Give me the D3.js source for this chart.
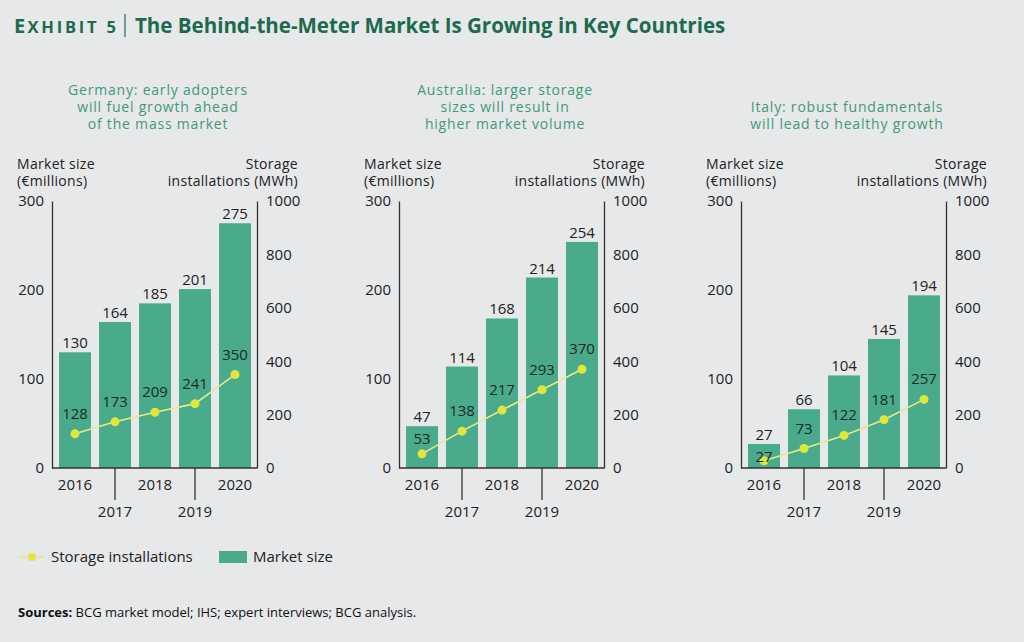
<!DOCTYPE html>
<html>
<head>
<meta charset="utf-8">
<script src="https://cdn.jsdelivr.net/npm/d3@7/dist/d3.min.js"></script>
<style>
  html, body { margin: 0; padding: 0; background: #e6e8ea; }
  svg { display: block; font-family: "Open Sans", "Noto Sans", sans-serif; }
</style>
</head>
<body>
<svg id="chart" width="1024" height="642"></svg>
<script>
// ---- data ----
const years = ["2016", "2017", "2018", "2019", "2020"];
const countries = ["Germany", "Australia", "Italy"];
const panelTitles = [
  ["Germany: early adopters", "will fuel growth ahead", "of the mass market"],
  ["Australia: larger storage", "sizes will result in", "higher market volume"],
  ["Italy: robust fundamentals", "will lead to healthy growth"]
];
const marketGermany = [130, 164, 185, 201, 275];
const marketAustralia = [47, 114, 168, 214, 254];
const marketItaly = [27, 66, 104, 145, 194];
const storageGermany = [128, 173, 209, 241, 350];
const storageAustralia = [53, 138, 217, 293, 370];
const storageItaly = [27, 73, 122, 181, 257];
const leftTicks = [0, 100, 200, 300];
const rightTicks = [0, 200, 400, 600, 800, 1000];
const leftTitle = ["Market size", "(€millions)"];
const rightTitle = ["Storage", "installations (MWh)"];
const legendLabels = ["Storage installations", "Market size"];

const markets = [marketGermany, marketAustralia, marketItaly];
const storages = [storageGermany, storageAustralia, storageItaly];

// ---- style ----
const C = {
  bg: "#e6e8ea",
  title: "#1d6b4e",
  sub: "#3f9a78",
  bar: "#4aab8c",
  line: "#e6e98a",
  dot: "#e2e53a",
  text: "#222",
  axis: "#333"
};

const svg = d3.select("#chart");
svg.append("rect").attr("width", 1024).attr("height", 642).attr("fill", C.bg);

// title
const title = svg.append("text").attr("x", 14).attr("y", 33)
  .attr("fill", C.title).attr("font-weight", 700);
title.append("tspan").attr("font-size", 20).attr("letter-spacing", 2.2).text("E");
title.append("tspan").attr("font-size", 16.5).attr("letter-spacing", 2.8).text("XHIBIT 5");
svg.append("line").attr("x1", 125).attr("x2", 125).attr("y1", 14).attr("y2", 37)
  .attr("stroke", C.title).attr("stroke-width", 1.2);
svg.append("text").attr("x", 135).attr("y", 33).attr("fill", C.title)
  .attr("font-weight", 700).attr("font-size", 20.5)
  .text("The Behind-the-Meter Market Is Growing in Key Countries");

const offsets = [0, 347, 689];
const x = d3.scaleBand().domain(years).range([52, 258]).paddingInner(0.2).paddingOuter(0.175);
const yL = d3.scaleLinear().domain([0, 300]).range([468, 201]);
const yR = d3.scaleLinear().domain([0, 1000]).range([468, 201]);

countries.forEach((c, i) => {
  const g = svg.append("g").attr("transform", `translate(${offsets[i]},0)`);

  // panel title (bottom-aligned)
  const lines = panelTitles[i];
  const baseY = 128.5 - (lines.length - 1) * 17;
  lines.forEach((t, k) => {
    g.append("text").attr("x", 158).attr("y", baseY + k * 17)
      .attr("text-anchor", "middle").attr("font-size", 14).attr("letter-spacing", 0.8)
      .attr("fill", C.sub).text(t);
  });

  // axis titles
  leftTitle.forEach((t, k) => {
    g.append("text").attr("x", 17).attr("y", 169 + k * 17).attr("font-size", 14)
      .attr("letter-spacing", 0.3).attr("fill", C.text).text(t);
  });
  rightTitle.forEach((t, k) => {
    g.append("text").attr("x", 298).attr("y", 169 + k * 17).attr("font-size", 14)
      .attr("letter-spacing", 0.3).attr("text-anchor", "end").attr("fill", C.text).text(t);
  });

  // bars
  g.selectAll("rect.bar").data(markets[i]).join("rect").attr("class", "bar")
    .attr("x", (d, j) => x(years[j])).attr("width", x.bandwidth())
    .attr("y", d => yL(d)).attr("height", d => yL(0) - yL(d))
    .attr("fill", C.bar);
  const barLabelY = d => yL(d) - 4;
  g.selectAll("text.bv").data(markets[i]).join("text").attr("class", "bv")
    .attr("x", (d, j) => x(years[j]) + x.bandwidth() / 2)
    .attr("y", barLabelY).attr("text-anchor", "middle")
    .attr("font-size", 15).attr("fill", C.text).text(d => d);

  // left axis
  const la = g.append("g").attr("transform", "translate(52,0)")
    .call(d3.axisLeft(yL).tickValues(leftTicks).tickFormat(d3.format("d")).tickSize(0).tickPadding(8));
  // right axis
  const ra = g.append("g").attr("transform", "translate(257,0)")
    .call(d3.axisRight(yR).tickValues(rightTicks).tickFormat(d3.format("d")).tickSize(0).tickPadding(9));
  [la, ra].forEach(a => {
    a.attr("font-family", null).attr("font-size", null);
    a.select(".domain").attr("stroke", C.axis).attr("stroke-width", 1.3);
    a.selectAll("text").attr("font-size", 15).attr("fill", C.text);
  });

  // bottom axis
  const ba = g.append("g").attr("transform", "translate(0,468)")
    .call(d3.axisBottom(x).tickSize(0).tickSizeOuter(0).tickPadding(0));
  ba.attr("font-family", null).attr("font-size", null);
  ba.select(".domain").attr("d", "M52,0H257").attr("stroke", C.axis).attr("stroke-width", 1.3);
  ba.selectAll(".tick").each(function (d, j) {
    const t = d3.select(this);
    if (j % 2 === 1) {
      t.select("line").attr("y2", 32).attr("stroke", C.axis).attr("stroke-width", 1.3);
    }
    t.select("text").attr("dy", null).attr("y", j % 2 === 1 ? 49 : 22)
      .attr("font-size", 15).attr("fill", C.text);
  });

  // storage line
  const cx = (d, j) => x(years[j]) + x.bandwidth() / 2;
  const line = d3.line().x(cx).y(d => yR(d));
  g.append("path").datum(storages[i]).attr("d", line).attr("fill", "none")
    .attr("stroke", C.line).attr("stroke-width", 1.6);
  g.selectAll("circle.pt").data(storages[i]).join("circle").attr("class", "pt")
    .attr("cx", cx).attr("cy", d => yR(d))
    .attr("r", 4.5).attr("fill", C.dot);
  // point labels above the point; pushed below the bar label when they would collide
  const pointLabelY = (d, j) => {
    const cand = yR(d) - 15;
    const bl = barLabelY(markets[i][j]);
    return (cand - bl < 18) ? bl + 22 : cand;
  };
  g.selectAll("text.sv").data(storages[i]).join("text").attr("class", "sv")
    .attr("x", cx).attr("y", pointLabelY).attr("text-anchor", "middle")
    .attr("font-size", 15).attr("fill", "#1c2a24").text(d => d);
});

// legend
const lg = svg.append("g");
lg.append("line").attr("x1", 18).attr("x2", 44).attr("y1", 557).attr("y2", 557)
  .attr("stroke", C.line).attr("stroke-width", 1.6);
lg.append("circle").attr("cx", 32).attr("cy", 557).attr("r", 4).attr("fill", C.dot);
lg.append("text").attr("x", 51).attr("y", 562).attr("font-size", 15)
  .attr("fill", C.text).text(legendLabels[0]);
lg.append("rect").attr("x", 219).attr("y", 551).attr("width", 28).attr("height", 12).attr("fill", C.bar);
lg.append("text").attr("x", 253).attr("y", 562).attr("font-size", 15)
  .attr("fill", C.text).text(legendLabels[1]);

// sources
const src = svg.append("text").attr("x", 18).attr("y", 617).attr("font-size", 13).attr("fill", "#111");
src.append("tspan").attr("font-weight", 700).text("Sources:");
src.append("tspan").text(" BCG market model; IHS; expert interviews; BCG analysis.");
</script>
</body>
</html>
